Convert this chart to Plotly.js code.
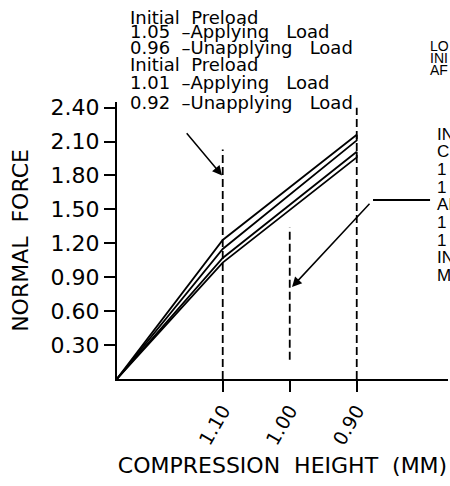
<!DOCTYPE html>
<html>
<head>
<meta charset="utf-8">
<script src="https://cdn.plot.ly/plotly-3.0.1.min.js"></script>
<style>html,body{margin:0;padding:0;background:#fff;}#chart{width:450px;height:486px;}</style>
</head>
<body>
<div id="chart"></div>
<script>
// ---- data ----
const freeHeight = 1.258;                 // start of compression (origin)
const heightSteps = [1.10, 0.90];         // compression heights (mm)
const applyA   = [1.23, 2.16];            // 1.05 preload, applying
const unapplyA = [2.11, 1.15];            // 0.96 preload, unapplying
const applyB   = [1.07, 2.01];            // 1.01 preload, applying
const unapplyB = [1.96, 1.03];            // 0.92 preload, unapplying
const refHeights = [1.10, 1.00, 0.90];    // dashed reference lines
const refBottom  = [0, 0.17, 0];
const refTop     = [2.03, 1.34, 2.40];
const xTickVals = [1.10, 1.00, 0.90];
const xTickText = ["1.10", "1.00", "0.90"];
const yTickVals = [0.30, 0.60, 0.90, 1.20, 1.50, 1.80, 2.10, 2.40];
const yTickText = ["0.30", "0.60", "0.90", "1.20", "1.50", "1.80", "2.10", "2.40"];
const noteLines = ["Initial\u00a0 Preload", "1.05\u00a0 \u2013Applying\u00a0 \u00a0Load", "0.96\u00a0 \u2013Unapplying\u00a0 \u00a0Load",
                   "Initial\u00a0 Preload", "1.01\u00a0 \u2013Applying\u00a0 \u00a0Load", "0.92\u00a0 \u2013Unapplying\u00a0 \u00a0Load"];
const sideTop = ["LO", "INI", "AF"];
const sideBottom = ["IN", "C", "1", "1", "AI", "1", "1", "IN", "M"];

// ---- layout helpers ----
const L = 117, T = 102, W = 331, H = 277;
const px = p => (p - L) / W;
const py = p => (H + T - p) / H;
const FONT = "DejaVu Sans";
const black = "#000";

const traces = [];
const solid = {color: black, width: 1.8};
traces.push({x: [freeHeight, heightSteps[0], heightSteps[1]], y: [0, applyA[0], applyA[1]], mode: "lines", line: solid, hoverinfo: "skip"});
traces.push({x: [heightSteps[1], heightSteps[1], heightSteps[0], freeHeight], y: [applyA[1], unapplyA[0], unapplyA[1], 0], mode: "lines", line: solid, hoverinfo: "skip"});
traces.push({x: [freeHeight, heightSteps[0], heightSteps[1]], y: [0, applyB[0], applyB[1]], mode: "lines", line: solid, hoverinfo: "skip"});
traces.push({x: [heightSteps[1], heightSteps[1], heightSteps[0], freeHeight], y: [applyB[1], unapplyB[0], unapplyB[1], 0], mode: "lines", line: solid, hoverinfo: "skip"});
refHeights.forEach((h, i) => {
  traces.push({x: [h, h], y: [refBottom[i], refTop[i]], mode: "lines", line: {color: black, width: 1.8, dash: "8px,4px"}, hoverinfo: "skip"});
});

const annotations = [];
const noteY = [18, 32, 47, 64, 83, 102];
noteLines.forEach((t, i) => {
  annotations.push({xref: "paper", yref: "paper", x: px(128), y: py(noteY[i]), xanchor: "left", yanchor: "middle",
    text: t, showarrow: false, font: {family: FONT, size: 18, color: black}});
});
const sideTopY = [46, 58, 70];
sideTop.forEach((t, i) => {
  annotations.push({xref: "paper", yref: "paper", x: px(428), y: py(sideTopY[i]), xanchor: "left", yanchor: "middle",
    text: t, showarrow: false, font: {family: "Liberation Sans", size: 14, color: black}});
});
sideBottom.forEach((t, i) => {
  annotations.push({xref: "paper", yref: "paper", x: px(435), y: py(134 + i * 17.7), xanchor: "left", yanchor: "middle",
    text: t, showarrow: false, font: {family: "Liberation Sans", size: 17, color: black}});
});
// arrows
annotations.push({x: 1.101, y: 1.80, ax: 1.159, ay: 2.21, axref: "x", ayref: "y", xref: "x", yref: "y",
  showarrow: true, arrowhead: 2, arrowsize: 1.3, arrowwidth: 1.5, arrowcolor: black});
annotations.push({x: 0.9966, y: 0.814, ax: 0.8757, ay: 1.583, axref: "x", ayref: "y", xref: "x", yref: "y",
  showarrow: true, arrowhead: 2, arrowsize: 1.3, arrowwidth: 1.5, arrowcolor: black});

const layout = {
  width: 450, height: 486,
  margin: {l: L, r: 450 - L - W, t: T, b: 486 - T - H, pad: 0},
  paper_bgcolor: "#fff", plot_bgcolor: "#fff",
  showlegend: false,
  font: {family: FONT, color: black},
  xaxis: {
    range: [1.2578, 0.7638], tickvals: xTickVals, ticktext: xTickText,
    ticks: "outside", ticklen: 11, tickwidth: 2, tickcolor: black,
    showline: true, linewidth: 2, linecolor: black, showgrid: false, zeroline: false,
    tickangle: -60, tickfont: {family: FONT, size: 19, color: black},
    title: {text: "COMPRESSION\u00a0 HEIGHT\u00a0 (MM)", font: {family: FONT, size: 22, color: black}, standoff: 10}
  },
  yaxis: {
    range: [0, 2.45], tickvals: yTickVals, ticktext: yTickText,
    ticks: "outside", ticklen: 11, tickwidth: 2, tickcolor: black,
    showline: true, linewidth: 2, linecolor: black, showgrid: false, zeroline: false,
    tickfont: {family: FONT, size: 22, color: black},
    title: {text: "NORMAL\u00a0 FORCE", font: {family: FONT, size: 22, color: black}, standoff: 16}
  },
  shapes: [{type: "line", xref: "x", yref: "y", x0: 0.8757, x1: 0.7906, y0: 1.583, y1: 1.583, line: {color: black, width: 1.8}}],
  annotations: annotations
};

Plotly.newPlot("chart", traces, layout, {staticPlot: true, displayModeBar: false});
</script>
</body>
</html>
